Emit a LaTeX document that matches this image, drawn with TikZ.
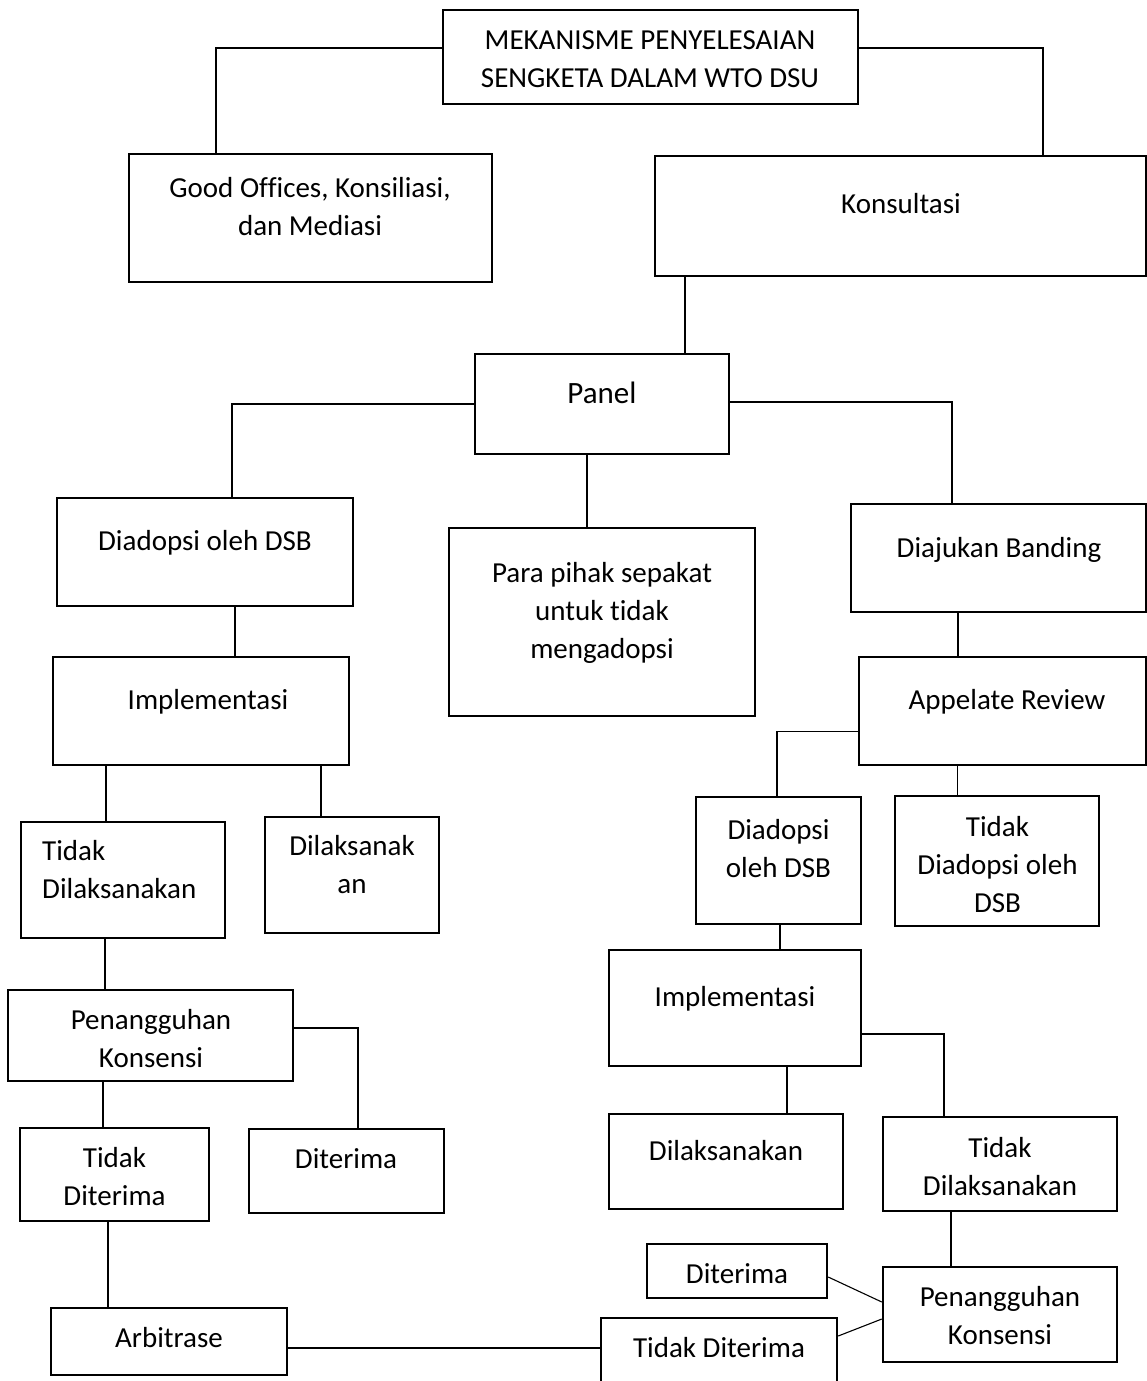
\documentclass[tikz,border=0pt]{standalone}
\usepackage{fontspec}
\setmainfont{Carlito}[Ligatures=CommonOff]
\usetikzlibrary{fit}
\newcommand\mlc[1]{\vtop{\baselineskip=38pt\halign{\hfil##\hfil\cr#1\crcr}}}
\newcommand\mll[1]{\vtop{\baselineskip=38pt\halign{##\hfil\cr#1\crcr}}}
\begin{document}
\begin{tikzpicture}[x=1pt,y=-1pt,
  box/.style={draw, line width=2.4pt, inner sep=0pt},
  txt/.style={inner sep=0pt, anchor=base, font=\fontsize{29}{38}\selectfont},
  con/.style={line width=1.1pt}]
\clip (0,0) rectangle (1147,1381);
\fill[white] (0,0) rectangle (1147,1381);
% boxes
\node[box, fit={(443,10) (858,104)}] (mek) {};
\node[box, fit={(129,154) (492,282)}] (good) {};
\node[box, fit={(655,156) (1146,276)}] (kons) {};
\node[box, fit={(475,354) (729,454)}] (panel) {};
\node[box, fit={(57,498) (353,606)}] (dsbL) {};
\node[box, fit={(449,528) (755,716)}] (para) {};
\node[box, fit={(851,504) (1146,612)}] (band) {};
\node[box, fit={(53,657) (349,765)}] (implL) {};
\node[box, fit={(859,657) (1146,765)}] (appel) {};
\node[box, fit={(21,822) (225,938)}] (tdkL) {};
\node[box, fit={(265,817) (439,933)}] (dilL) {};
\node[box, fit={(696,797) (861,924)}] (dsbR) {};
\node[box, fit={(895,796) (1099,926)}] (tdsb) {};
\node[box, fit={(8,990) (293,1081)}] (pengL) {};
\node[box, fit={(609,950) (861,1066)}] (implR) {};
\node[box, fit={(20,1128) (209,1221)}] (tdL) {};
\node[box, fit={(249,1129) (444,1213)}] (terL) {};
\node[box, fit={(609,1114) (843,1209)}] (dilR) {};
\node[box, fit={(883,1117) (1117,1211)}] (tdkR) {};
\node[box, fit={(51,1308) (287,1375)}] (arb) {};
\node[box, fit={(647,1244) (827,1298)}] (terR) {};
\node[box, fit={(883,1267) (1117,1362)}] (pengR) {};
\node[box, fit={(601,1318) (837,1400)}] (tdR) {};
% texts
\node[txt] (mekT) at (650,50) {\mlc{MEKANISME PENYELESAIAN\cr SENGKETA DALAM WTO DSU}};
\node[txt] (goodT) at (310,197) {\mlc{Good Offices, Konsiliasi,\cr dan Mediasi}};
\node[txt] (konsT) at (901,213) {Konsultasi};
\node[txt, font=\fontsize{31}{38}\selectfont] (panelT) at (602,403) {Panel};
\node[txt] (dsbLT) at (205,550) {Diadopsi oleh DSB};
\node[txt] (paraT) at (602,582) {\mlc{Para pihak sepakat\cr untuk tidak\cr mengadopsi}};
\node[txt] (bandT) at (999,557) {Diajukan Banding};
\node[txt] (implLT) at (208,709) {Implementasi};
\node[txt] (appelT) at (1007,709) {Appelate Review};
\node[txt, anchor=base west] (tdkLT) at (42,860.5) {\mll{Tidak\cr Dilaksanakan}};
\node[txt] (dilLT) at (352,855) {\mlc{Dilaksanak\cr an}};
\node[txt] (dsbRT) at (778.5,839.5) {\mlc{Diadopsi\cr oleh DSB}};
\node[txt] (tdsbT) at (997.5,836) {\mlc{Tidak\cr Diadopsi oleh\cr DSB}};
\node[txt] (pengLT) at (151,1029) {\mlc{Penangguhan\cr Konsensi}};
\node[txt] (implRT) at (735,1006) {Implementasi};
\node[txt] (tdLT) at (114.5,1167) {\mlc{Tidak\cr Diterima}};
\node[txt] (terLT) at (346,1168) {Diterima};
\node[txt] (dilRT) at (726,1160) {Dilaksanakan};
\node[txt] (tdkRT) at (1000,1157) {\mlc{Tidak\cr Dilaksanakan}};
\node[txt] (arbT) at (169,1347) {Arbitrase};
\node[txt] (terRT) at (737,1283) {Diterima};
\node[txt] (pengRT) at (1000,1306) {\mlc{Penangguhan\cr Konsensi}};
\node[txt] (tdRT) at (719,1357) {Tidak Diterima};
% connectors
\coordinate (ca) at (216,48);
\draw[con] (mek.west |- ca) -- (ca) -- (good.north -| ca);
\coordinate (cb) at (1043,48);
\draw[con] (mek.east |- cb) -- (cb) -- (kons.north -| cb);
\coordinate (cc) at (685,0);
\draw[con] (kons.south -| cc) -- (panel.north -| cc);
\coordinate (cd) at (232,404);
\draw[con] (panel.west |- cd) -- (cd) -- (dsbL.north -| cd);
\coordinate (ce) at (952,402);
\draw[con] (panel.east |- ce) -- (ce) -- (band.north -| ce);
\coordinate (cf) at (587,0);
\draw[con] (panel.south -| cf) -- (para.north -| cf);
\coordinate (cg) at (235,0);
\draw[con] (dsbL.south -| cg) -- (implL.north -| cg);
\coordinate (ch) at (106,0);
\draw[con] (implL.south -| ch) -- (tdkL.north -| ch);
\coordinate (ci) at (321,0);
\draw[con] (implL.south -| ci) -- (dilL.north -| ci);
\coordinate (cj) at (958,0);
\draw[con] (band.south -| cj) -- (appel.north -| cj);
\coordinate (ck) at (777,731.5);
\draw[con] (appel.west |- ck) -- (ck) -- (dsbR.north -| ck);
\coordinate (cl) at (957.5,0);
\draw[con] (appel.south -| cl) -- (tdsb.north -| cl);
\coordinate (cm) at (105,0);
\draw[con] (tdkL.south -| cm) -- (pengL.north -| cm);
\coordinate (cn) at (358,1028);
\draw[con] (pengL.east |- cn) -- (cn) -- (terL.north -| cn);
\coordinate (co) at (103,0);
\draw[con] (pengL.south -| co) -- (tdL.north -| co);
\coordinate (cp) at (108,0);
\draw[con] (tdL.south -| cp) -- (arb.north -| cp);
\coordinate (cq) at (0,1348);
\draw[con] (arb.east |- cq) -- (tdR.west |- cq);
\coordinate (cr) at (780,0);
\draw[con] (dsbR.south -| cr) -- (implR.north -| cr);
\coordinate (cs) at (944,1034);
\draw[con] (implR.east |- cs) -- (cs) -- (tdkR.north -| cs);
\coordinate (ct) at (787,0);
\draw[con] (implR.south -| ct) -- (dilR.north -| ct);
\coordinate (cu) at (951,0);
\draw[con] (tdkR.south -| cu) -- (pengR.north -| cu);
\coordinate (cv1) at (0,1277);
\coordinate (cv2) at (0,1302);
\draw[con] (terR.east |- cv1) -- (pengR.west |- cv2);
\coordinate (cw1) at (0,1336);
\coordinate (cw2) at (0,1319);
\draw[con] (tdR.east |- cw1) -- (pengR.west |- cw2);
\end{tikzpicture}
\end{document}
